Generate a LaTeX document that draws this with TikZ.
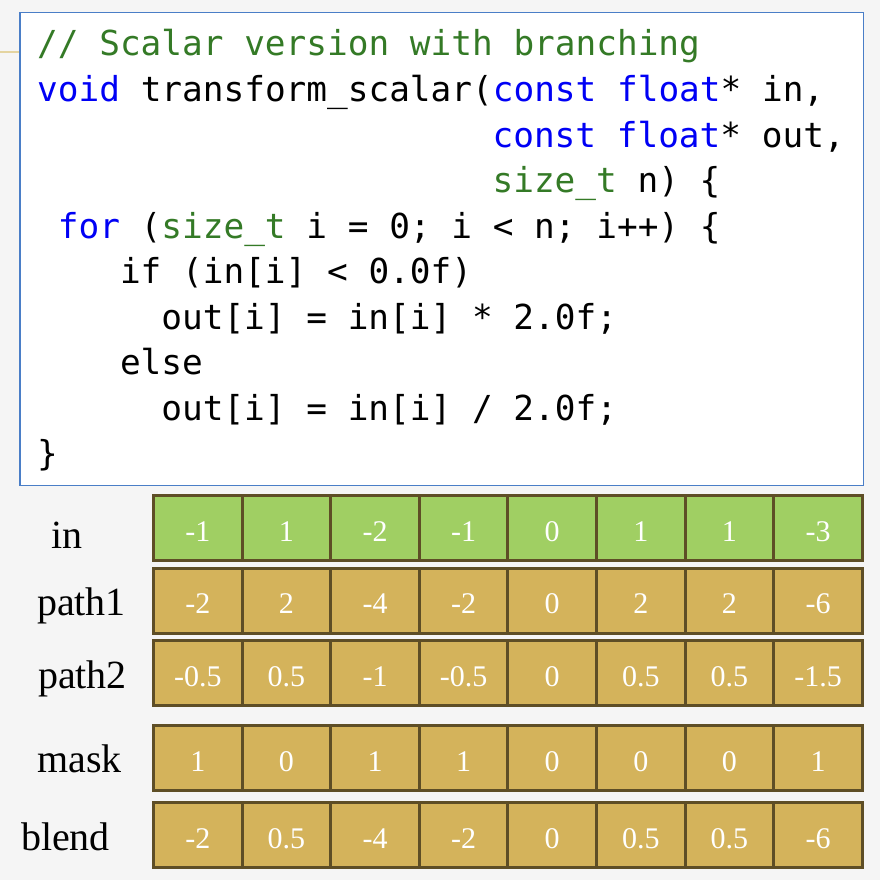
\documentclass[tikz,border=0pt]{standalone}
\usepackage{fontspec}
\setmainfont{Liberation Serif}
\setmonofont{DejaVu Sans Mono}
\definecolor{bg}{RGB}{245,245,245}
\definecolor{boxblue}{RGB}{74,126,199}
\definecolor{cgreen}{RGB}{52,122,38}
\definecolor{kblue}{RGB}{0,0,245}
\definecolor{cellgreen}{RGB}{160,207,99}
\definecolor{cellgold}{RGB}{212,179,91}
\definecolor{cellline}{RGB}{94,78,38}
\definecolor{goldline}{RGB}{228,212,160}
\newcommand{\cmt}[1]{\textcolor{cgreen}{#1}}
\newcommand{\kw}[1]{\textcolor{kblue}{#1}}
\begin{document}
\begin{tikzpicture}[x=1pt,y=-1pt,
  codeline/.style={anchor=base west,inner sep=0pt,font=\ttfamily\fontsize{34.4}{45}\selectfont},
  rowlabel/.style={anchor=base,inner sep=0pt,font=\fontsize{40}{40}\selectfont},
  cellbase/.style={draw=cellline,line width=3pt,minimum width=88.6pt,minimum height=65pt,inner sep=0pt,
     text=white,font=\fontsize{30}{30}\selectfont,text height=26pt,text depth=0pt},
  ingreen/.style={cellbase,fill=cellgreen},
  ingold/.style={cellbase,fill=cellgold}]
\fill[bg] (0,0) rectangle (880,880);
\useasboundingbox (0,0) rectangle (880,880);
% code box
\node[draw=boxblue,fill=white,line width=1.5pt,minimum width=843.5pt,minimum height=472.5pt,inner sep=0pt] (code) at (441.5,249) {};
\coordinate (g) at (0,52);
\draw[goldline,line width=2pt] (g) -- (code.west |- g);
% code lines
\def\cw{20.7}
\node[codeline] (l1) at (37,56) {\cmt{// Scalar version with branching}};
\node[codeline] (l2) at (37,101.5) {\kw{void} transform\_scalar(\kw{const} \kw{float}* in,};
\node[codeline] (l3) at (37+22*\cw,147) {\kw{const} \kw{float}* out,};
\node[codeline] (l4) at (37+22*\cw,192.5) {\cmt{size\_t} n) \{};
\node[codeline] (l5) at (37+1*\cw,238) {\kw{for} (\cmt{size\_t} i = 0; i < n; i++) \{};
\node[codeline] (l6) at (37+4*\cw,283.5) {if (in[i] < 0.0f)};
\node[codeline] (l7) at (37+6*\cw,329) {out[i] = in[i] * 2.0f;};
\node[codeline] (l8) at (37+4*\cw,374.5) {else};
\node[codeline] (l9) at (37+6*\cw,420) {out[i] = in[i] / 2.0f;};
\node[codeline] (l10) at (37,465.5) {\}};
% row labels
\node[rowlabel] (lin) at (67,548) {in};
\node[rowlabel] (lp1) at (81.5,615) {path1};
\node[rowlabel] (lp2) at (82.5,688) {path2};
\node[rowlabel] (lmask) at (79.5,772) {mask};
\node[rowlabel] (lblend) at (65.5,850) {blend};
% cells
\foreach \v [count=\i from 0] in {-1,1,-2,-1,0,1,1,-3}
  \node[ingreen] (in\i) at (153.5+88.6*\i+44.3,528) {\v};
\foreach \v [count=\i from 0] in {-2,2,-4,-2,0,2,2,-6}
  \node[ingold] (pa\i) at (153.5+88.6*\i+44.3,600.5) {\v};
\foreach \v [count=\i from 0] in {-0.5,0.5,-1,-0.5,0,0.5,0.5,-1.5}
  \node[ingold] (pb\i) at (153.5+88.6*\i+44.3,673) {\v};
\foreach \v [count=\i from 0] in {1,0,1,1,0,0,0,1}
  \node[ingold] (ma\i) at (153.5+88.6*\i+44.3,758) {\v};
\foreach \v [count=\i from 0] in {-2,0.5,-4,-2,0,0.5,0.5,-6}
  \node[ingold] (bl\i) at (153.5+88.6*\i+44.3,835) {\v};
\end{tikzpicture}
\end{document}
